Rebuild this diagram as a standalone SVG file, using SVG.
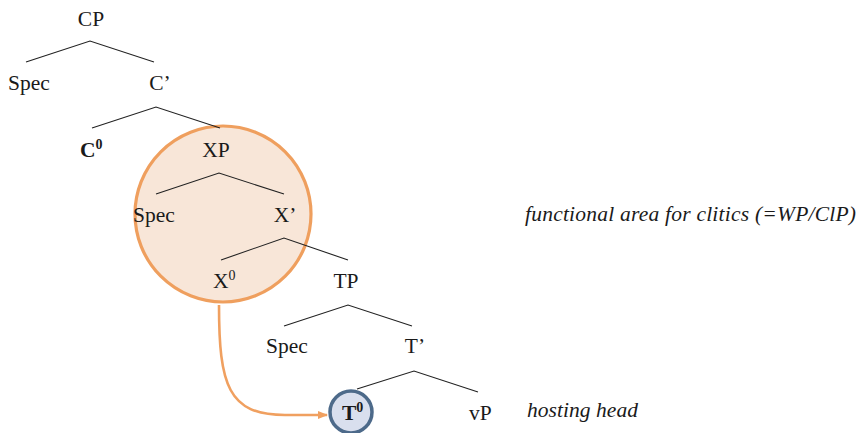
<svg xmlns="http://www.w3.org/2000/svg" width="865" height="433" viewBox="0 0 865 433">
<style>
.t{font-family:"Liberation Serif","Times New Roman","DejaVu Serif",serif;font-size:21.5px;fill:#1a1a1a}
.c{text-anchor:middle}
.b{font-weight:bold}
.i{font-style:italic}
.sup{font-size:14px}
.ln{stroke:#222;stroke-width:1.1;fill:none}
</style>
<defs>
<marker id="ah" markerWidth="10" markerHeight="10" refX="9" refY="5" orient="auto" markerUnits="userSpaceOnUse">
<path d="M0,1 L10,5 L0,9 Z" fill="#F0A060"/>
</marker>
</defs>
<rect width="865" height="433" fill="#fff"/>
<g id="clitic-area">
<circle cx="223" cy="214" r="88" fill="#F8E6D8" stroke="#EF9F5E" stroke-width="3.2"/>
</g>
<g id="connectors">
<path class="ln" d="M26,62 L90,41 L154,62"/>
<path class="ln" d="M92,128 L156,107 L220,128"/>
<path class="ln" d="M156,194 L219,173 L284,194"/>
<path class="ln" d="M221,260 L284,238 L348,260"/>
<path class="ln" d="M284,326 L348,305 L412,326"/>
<path class="ln" d="M357,389 L414,371 L478,392"/>
<path d="M219,305 C219,385 228,415 285,415 L327,415" fill="none" stroke="#F0A060" stroke-width="2.6" marker-end="url(#ah)"/>
</g>
<g id="CP"><text class="t c" x="91" y="26">CP</text></g>
<g id="Spec-CP"><text class="t" x="8" y="90">Spec</text></g>
<g id="Cbar"><text class="t c" x="160" y="90">C’</text></g>
<g id="C0"><text class="t b" x="80" y="157">C<tspan class="sup" dy="-8">0</tspan></text></g>
<g id="XP"><text class="t c" x="216" y="157">XP</text></g>
<g id="Spec-XP"><text class="t" x="133" y="222">Spec</text></g>
<g id="Xbar"><text class="t c" x="285" y="222">X’</text></g>
<g id="X0"><text class="t" x="213" y="288">X<tspan class="sup" dy="-8">0</tspan></text></g>
<g id="TP"><text class="t c" x="346" y="288">TP</text></g>
<g id="Spec-TP"><text class="t" x="266" y="353">Spec</text></g>
<g id="Tbar"><text class="t c" x="415" y="353">T’</text></g>
<g id="T0">
<circle cx="351" cy="412" r="21" fill="#D9DFEE" stroke="#4D6A8A" stroke-width="3.5"/>
<text class="t b" x="342" y="420">T<tspan class="sup" dy="-8">0</tspan></text>
</g>
<g id="vP"><text class="t" x="469" y="420">vP</text></g>
<g id="label-functional"><text class="t i" x="525" y="221" textLength="331" lengthAdjust="spacing">functional area for clitics (=WP/ClP)</text></g>
<g id="label-hosting"><text class="t i" x="527" y="417" textLength="111" lengthAdjust="spacing">hosting head</text></g>
</svg>
